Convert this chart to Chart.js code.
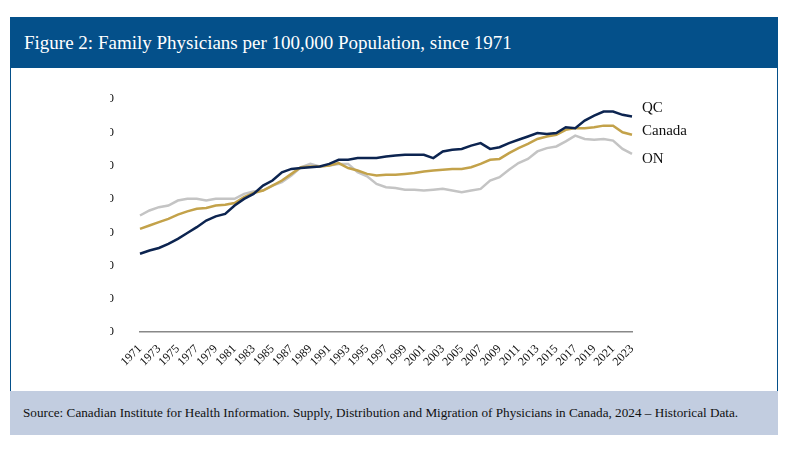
<!DOCTYPE html>
<html><head><meta charset="utf-8">
<script src="https://cdn.jsdelivr.net/npm/chart.js@4"></script>
<style>
body{margin:0;background:#fff;font-family:"Liberation Serif",serif;}
#title{position:absolute;left:10px;top:17px;width:768px;height:51px;background:#04508a;color:#fff;font-size:19px;line-height:51px;padding-left:14px;box-sizing:border-box;}
#box{position:absolute;left:10px;top:68px;width:768px;height:323px;border:1px solid #04508a;border-top:none;border-bottom:none;box-sizing:border-box;}
#foot{position:absolute;left:10px;top:391px;width:768px;height:44px;background:#c2cde0;color:#111;font-size:13.2px;line-height:44px;padding-left:13px;box-sizing:border-box;white-space:nowrap;}
canvas{display:block}
</style></head><body>
<div id="title">Figure 2: Family Physicians per 100,000 Population, since 1971</div>
<div id="box"><canvas id="c" width="766" height="323"></canvas></div>
<div id="foot">Source: Canadian Institute for Health Information. Supply, Distribution and Migration of Physicians in Canada, 2024 – Historical Data.</div>
<script>
const years=[];for(let y=1971;y<=2023;y++)years.push(String(y));
const qc=[47,49,50.5,53,56,59.5,63,67,69.5,71,76,80,83,88,91,96,98,98.5,99,99.5,101,103.5,103.5,104.5,104.5,104.5,105.5,106,106.5,106.5,106.5,104.5,108.5,109.5,110,112,113.5,110,111,113.5,115.5,117.5,119.5,119,119.5,123,122.5,127,130,132.5,132.5,130.5,129.5];
const canada=[62,64,66,68,70.5,72.5,74,74.5,76,76.5,77.5,81,83.5,85,88,91,95,99,99.5,99.5,100,101.5,98.5,97,95,94,94.5,94.5,95,95.5,96.5,97,97.5,98,98,99,101,103.5,104,107.5,110.5,113,116,117.5,118.5,121.5,122.5,122.5,123,124,124,120,118.5];
const on=[70,73,75,76,79,80,80,79,80,80,80,83,84.5,85,88,90,94,99,101,99.5,100,101,101,96,93.5,89,87,86.5,85.5,85.5,85,85.5,86,85,84,85,86,91,93,97.5,101.5,104,108.5,110.5,111.5,114.5,118,116,115.5,116,115,110,107];
const yTicks=[0,20,40,60,80,100,120,140];
const names=['QC','Canada','ON'];
const labelPlugin={id:'lbl',afterDatasetsDraw(ch){const c=ch.ctx;c.save();c.font='15px "Liberation Serif"';c.fillStyle='#111';c.textBaseline='middle';
ch.data.datasets.forEach((d,i)=>{const m=ch.getDatasetMeta(i).data;const p=m[m.length-1];c.fillText(names[i],p.x+10,p.y-(i===0?8:i===1?4:-1)*1+(i===2?4:0));});c.restore();}};
new Chart(document.getElementById('c'),{type:'line',
data:{labels:years,datasets:[
{data:qc,borderColor:'#0c2450',borderWidth:2.5},
{data:canada,borderColor:'#c3a24a',borderWidth:2.5},
{data:on,borderColor:'#c4c4c4',borderWidth:2.5}]},
options:{responsive:false,animation:false,elements:{point:{radius:0},line:{tension:0}},
layout:{padding:{left:99,right:145,top:31,bottom:10}},
plugins:{legend:{display:false},tooltip:{enabled:false}},
scales:{
y:{min:0,max:140,afterFit:s=>{s.width=30},afterBuildTicks:s=>{s.ticks=yTicks.map(v=>({value:v}))},grid:{display:false},border:{display:false},ticks:{color:'#111',font:{family:'Liberation Serif',size:13},padding:18}},
x:{offset:false,afterFit:s=>{s.height=49},grid:{display:false},border:{color:'#888',width:1.5},ticks:{autoSkip:false,maxRotation:45,minRotation:45,color:'#111',font:{family:'Liberation Serif',size:12},padding:2,callback:function(v,i){return i%2===0?this.getLabelForValue(v):''}}}}},
plugins:[labelPlugin]});
</script></body></html>
